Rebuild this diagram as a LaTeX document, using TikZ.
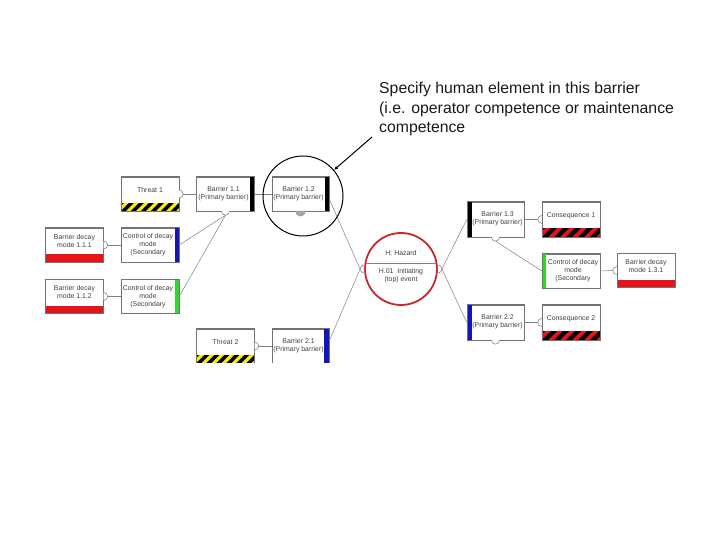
\documentclass[tikz,border=0pt]{standalone}
\usepackage{fontspec}
\setmainfont{Liberation Sans}
\usetikzlibrary{calc,arrows.meta}
\newcommand\boxfont{\fontsize{6.9}{8}\selectfont}
\newcommand\annfont{\fontsize{15.8}{19.5}\selectfont}
\definecolor{hzred}{RGB}{200,40,45}
\definecolor{cyel}{RGB}{245,235,20}
\definecolor{cred}{RGB}{230,20,25}
\definecolor{cblue}{RGB}{20,20,190}
\definecolor{cgreen}{RGB}{40,220,40}
\newcommand\mystripes[5]{%
  \begin{scope}
    \clip (#1.south west) rectangle ([yshift=#4 pt]#1.south east);
    \fill[#2] (#1.south west) rectangle ([yshift=#4 pt]#1.south east);
    \foreach \k in {-2,...,9} {
      \fill[#3] ($(#1.south west)+(\k*#5,0)$) -- ++(#5/2,0) -- ++(#4,#4) -- ++(-#5/2,0) -- cycle;
    }
  \end{scope}
  \draw[boxline] (#1.south west) rectangle (#1.north east);
}
\begin{document}
\begin{tikzpicture}[x=1pt,y=1pt,
  box/.style={draw=black!55, fill=white, minimum width=58pt, minimum height=34pt,
    inner sep=0pt, font=\boxfont, text=black!75, align=center},
  boxline/.style={draw=black!55, line width=0.6pt},
  conn/.style={draw=black!50, line width=0.5pt},
  semi/.style={draw=black!55, line width=0.5pt, fill=white},
  lbl/.style={font=\boxfont, text=black!75, align=center, inner sep=0pt}]
\useasboundingbox (0,0) rectangle (720,540);
\begin{scope}
\clip (0,177) rectangle (720,540);
% left column
\node[box] (d111) at (74.5,295) {};
\node[box] (c1) at (150,295) {};
\node[box] (d112) at (74.5,243.5) {};
\node[box] (c2) at (150,243.5) {};
% threats and barriers
\node[box] (t1) at (150,346) {};
\node[box] (b11) at (225.5,346) {};
\node[box, minimum width=57pt] (b12) at (300.5,346) {};
\node[box] (t2) at (225.5,194) {};
\node[box, minimum width=57pt] (b21) at (300.5,194) {};
% right side
\node[box, minimum width=57pt, minimum height=35pt] (b13) at (495.5,320.5) {};
\node[box, minimum height=35pt] (cq1) at (571,320.5) {};
\node[box] (cr) at (571,269) {};
\node[box] (d131) at (646,269.5) {};
\node[box, minimum width=57pt, minimum height=35pt] (b22) at (495.5,217.5) {};
\node[box, minimum height=35pt] (cq2) at (571,217.5) {};
% hazard
\node[circle, draw=hzred, line width=1.8pt, fill=white, minimum size=72pt, inner sep=0pt] (hz) at (401,271) {};
\draw[black!50, line width=0.8pt] ($(hz.center)+(-35,6)$) -- ($(hz.center)+(35,6)$);
\node[lbl] (hzt) at ($(hz.center)+(0,16)$) {H: Hazard};
\node[lbl] (hzb) at ($(hz.center)+(0,-7)$) {H.01\ \ Initiating\\(top) event};
% colour bars
\fill[black] ([xshift=-5pt]b11.north east) rectangle (b11.south east);
\fill[black] ([xshift=-4pt]b12.north east) rectangle (b12.south east);
\fill[cblue] ([xshift=-5pt]b21.north east) rectangle (b21.south east);
\fill[cblue] ([xshift=-4pt]c1.north east) rectangle (c1.south east);
\fill[cgreen] ([xshift=-4pt]c2.north east) rectangle (c2.south east);
\fill[black] (b13.north west) rectangle ([xshift=5pt]b13.south west);
\fill[cblue] (b22.north west) rectangle ([xshift=5pt]b22.south west);
\fill[cgreen] (cr.north west) rectangle ([xshift=4pt]cr.south west);
\foreach \n in {c1,c2,cr,b11,b12,b21,b13,b22} {
  \draw[boxline] (\n.south west) rectangle (\n.north east);
}
% red bars
\foreach \n in {d111,d112,d131} {
  \fill[cred] (\n.south west) rectangle ([yshift=8pt]\n.south east);
  \draw[boxline] (\n.south west) rectangle (\n.north east);
}
% stripes
\mystripes{t1}{cyel}{black}{8}{10}
\mystripes{t2}{cyel}{black}{8}{10}
\mystripes{cq1}{cred}{black}{9}{12}
\mystripes{cq2}{cred}{black}{9}{12}
% texts
\node[lbl] at ($(t1.center)+(0,4)$) {Threat 1};
\node[lbl] at ($(t2.center)+(0,4)$) {Threat 2};
\node[lbl] at ($(b11.center)+(-2,0)$) {Barrier 1.1\\(Primary barrier)};
\node[lbl] at ($(b12.center)+(-2,0)$) {Barrier 1.2\\(Primary barrier)};
\node[lbl] at ($(b21.center)+(-2,0)$) {Barrier 2.1\\(Primary barrier)};
\node[lbl] at ($(b13.center)+(2,1)$) {Barrier 1.3\\(Primary barrier)};
\node[lbl] at ($(b22.center)+(2,1)$) {Barrier 2.2\\(Primary barrier)};
\node[lbl] at ($(cq1.center)+(0,4)$) {Consequence 1};
\node[lbl] at ($(cq2.center)+(0,4)$) {Consequence 2};
\node[lbl] at ($(c1.center)+(-2,0)$) {Control of decay\\mode\\(Secondary};
\node[lbl] at ($(c2.center)+(-2,0)$) {Control of decay\\mode\\(Secondary};
\node[lbl] at ($(cr.center)+(2,0)$) {Control of decay\\mode\\(Secondary};
\node[lbl] at ($(d111.center)+(0,4)$) {Barrier decay\\mode 1.1.1};
\node[lbl] at ($(d112.center)+(0,4)$) {Barrier decay\\mode 1.1.2};
\node[lbl] at ($(d131.center)+(0,4)$) {Barrier decay\\mode 1.3.1};
% connectors
\draw[conn] ([xshift=4pt]t1.east) -- (b11.west);
\draw[conn] (b11.east) -- (b12.west);
\draw[conn] ([xshift=4pt]t2.east) -- (b21.west);
\draw[conn] ([xshift=4pt]d111.east) -- (c1.west);
\draw[conn] ([xshift=4pt]d112.east) -- (c2.west);
\draw[conn] ([yshift=-4pt]b11.south) -- (c1.east);
\draw[conn] ([yshift=-4pt]b11.south) -- (c2.east);
\draw[conn] ([yshift=-5pt]b12.east) -- ([xshift=-4pt]hz.west);
\draw[conn] ([yshift=5pt]b21.east) -- ([xshift=-4pt]hz.west);
\draw[conn] ([xshift=4pt]hz.east) -- (b13.west);
\draw[conn] ([xshift=4pt]hz.east) -- (b22.west);
\draw[conn] (b13.east) -- ([xshift=-4pt]cq1.west);
\draw[conn] (b22.east) -- ([xshift=-4pt]cq2.west);
\draw[conn] ([yshift=-4pt]b13.south) -- (cr.west);
\draw[conn] (cr.east) -- ([xshift=-4pt]d131.west);
% semicircles
\draw[semi] ([yshift=4pt]t1.east) arc (90:-90:4pt);
\draw[semi] ([yshift=4pt]t2.east) arc (90:-90:4pt);
\draw[semi] ([yshift=4pt]d111.east) arc (90:-90:4pt);
\draw[semi] ([yshift=4pt]d112.east) arc (90:-90:4pt);
\draw[semi] ([xshift=-4pt]b11.south) arc (180:360:4pt);
\draw[black!40, fill=black!35] ([xshift=-5pt]b12.south) arc (180:360:5pt) -- cycle;
\draw[semi] ([yshift=4pt]hz.west) arc (90:270:4pt);
\draw[semi] ([yshift=4pt]hz.east) arc (90:-90:4pt);
\draw[semi] ([yshift=4pt]cq1.west) arc (90:270:4pt);
\draw[semi] ([yshift=4pt]cq2.west) arc (90:270:4pt);
\draw[semi] ([yshift=4pt]d131.west) arc (90:270:4pt);
\draw[semi] ([xshift=-4pt]b13.south) arc (180:360:4pt);
\draw[semi] ([xshift=-4pt]b22.south) arc (180:360:4pt);
\end{scope}
% highlight and annotation
\node[circle, draw=black, line width=1pt, minimum size=80pt, inner sep=0pt] (hl) at (303,344) {};
\node[anchor=north west, align=left, font=\annfont, text=black!90, inner sep=0pt] (ann) at (379,458) {Specify human element in this barrier\\(i.e. operator competence or maintenance\\competence};
\coordinate (arrS) at (372,403);
\draw[line width=1pt, -{Latex[length=4pt,width=3.5pt]}] (arrS) -- (hl.40);
\end{tikzpicture}
\end{document}
